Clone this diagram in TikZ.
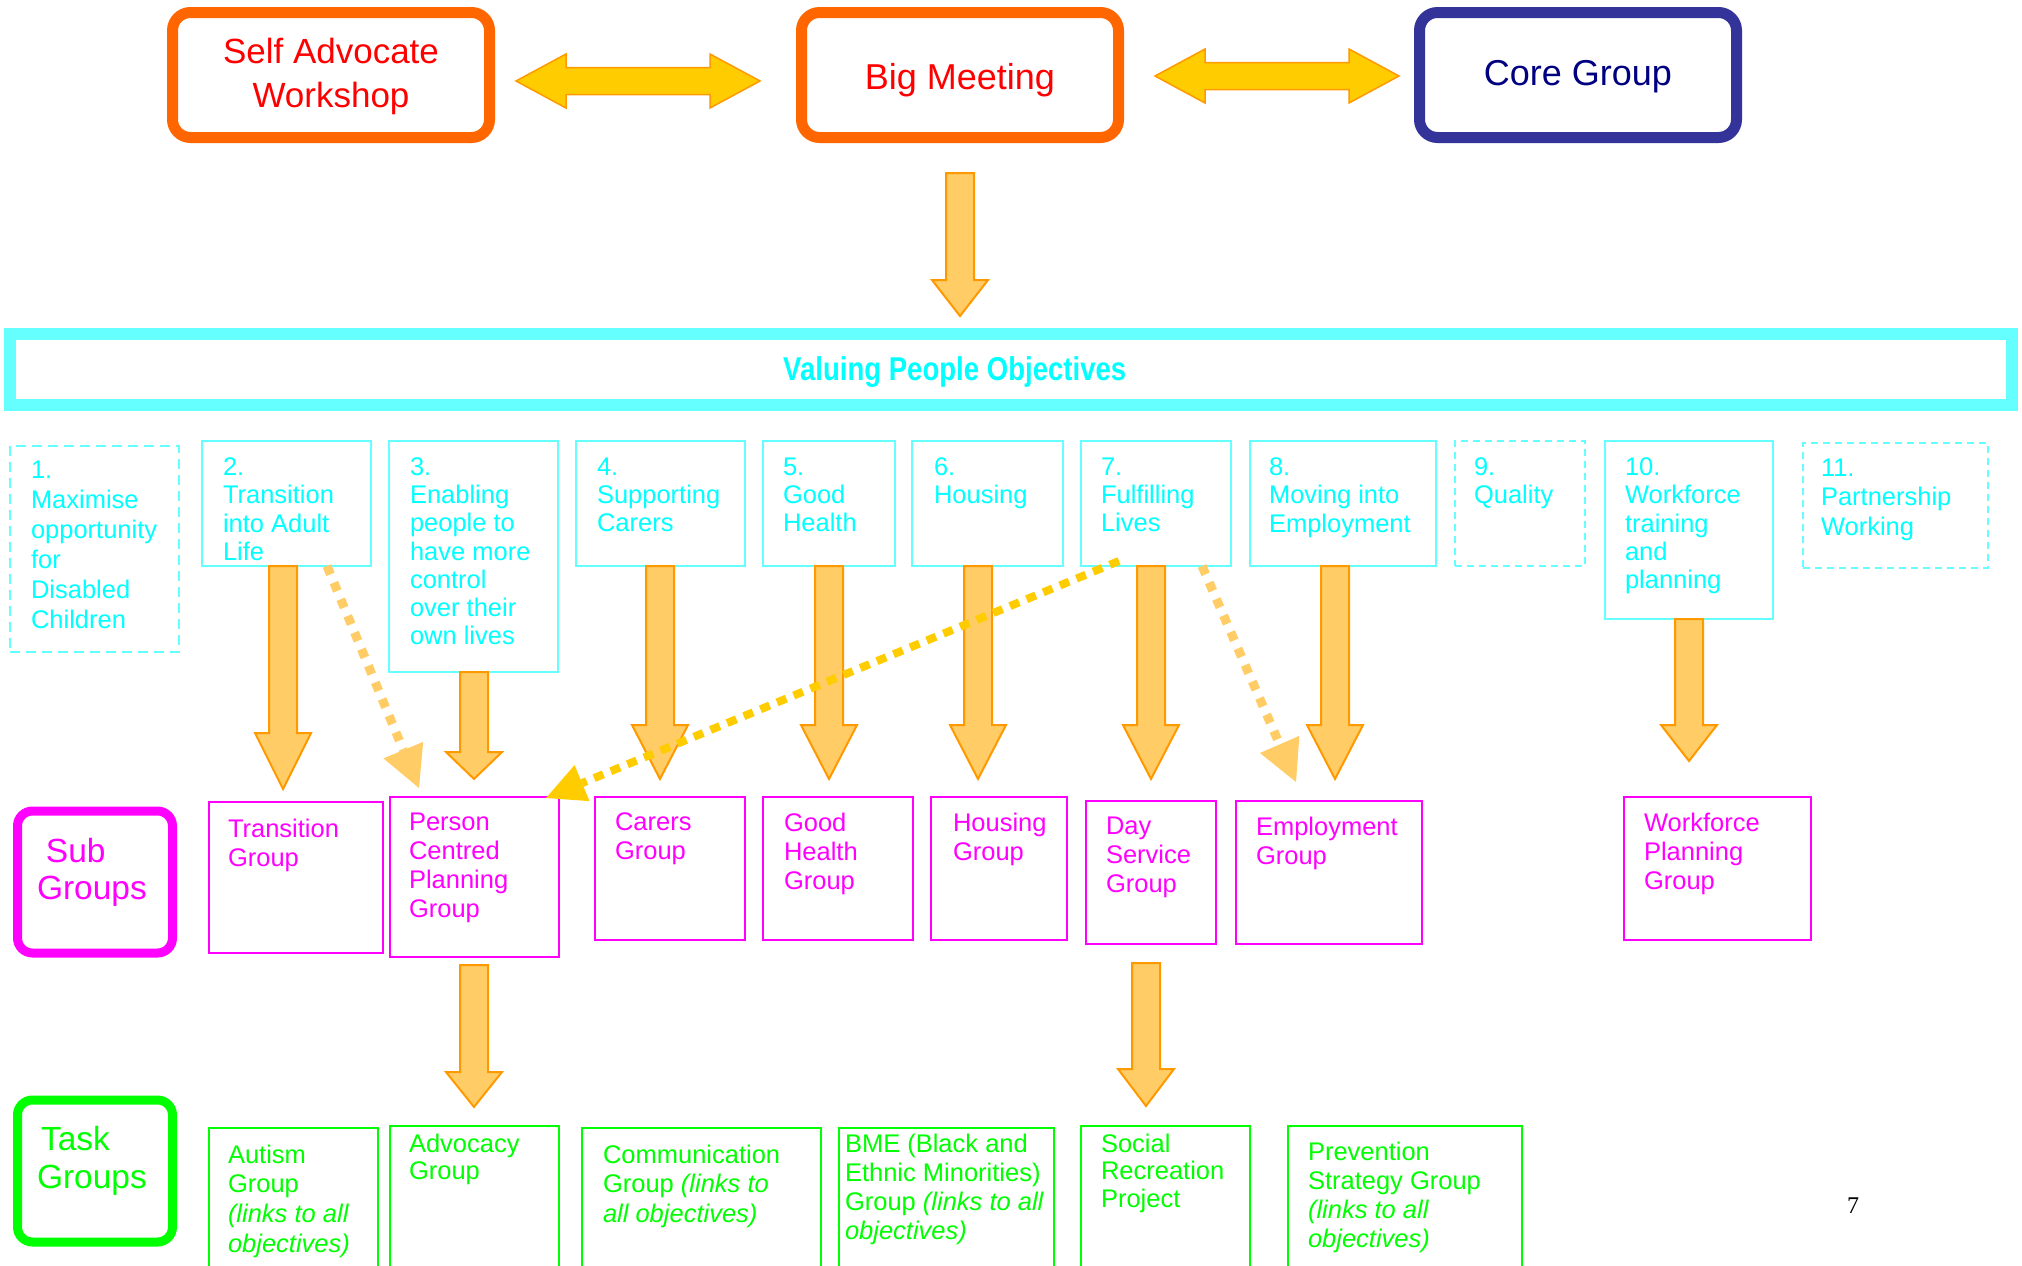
\documentclass[tikz,border=0pt]{standalone}
\usepackage{fontspec}
\setmainfont{Liberation Sans}
\newfontfamily\titlefont{Liberation Sans}[FakeStretch=0.835]
\newfontfamily\pagenumfont{Liberation Serif}
\usetikzlibrary{arrows.meta,calc,fit}
\definecolor{fatfill}{HTML}{FFCC66}
\definecolor{fatline}{HTML}{FF9900}
\definecolor{dblfill}{HTML}{FFCC00}
\definecolor{topor}{HTML}{FF6600}
\definecolor{navyline}{HTML}{333399}
\definecolor{navytext}{HTML}{000080}
\definecolor{cyanline}{HTML}{66FFFF}
\definecolor{cyantext}{HTML}{00FFFF}
\definecolor{mag}{HTML}{FF00FF}
\definecolor{grn}{HTML}{00FF00}
\definecolor{redtext}{HTML}{FF0000}
\definecolor{dotor}{HTML}{FFCC66}
\definecolor{dotyel}{HTML}{FFCC00}
\tikzset{
  frame/.style={inner sep=0pt, outer sep=0pt},
  topbox/.style={frame, draw=topor, line width=11pt, rounded corners=18pt},
  labelbox/.style={frame, line width=9pt, rounded corners=15pt},
  objbox/.style={frame, draw=cyanline, line width=2pt},
  objdash/.style={objbox, dash pattern=on 10pt off 6pt},
  objdot/.style={objbox, dash pattern=on 7pt off 5pt},
  subbox/.style={frame, draw=mag, line width=2pt},
  taskbox/.style={frame, draw=grn, line width=2pt},
  boxtext/.style={inner sep=0pt, outer sep=0pt, anchor=north west, align=left},
  objtext/.style={boxtext, text=cyantext},
  subtext/.style={boxtext, text=mag},
  tasktext/.style={boxtext, text=grn},
  fatarrowstyle/.style={fill=fatfill, draw=fatline, line width=2pt, line join=miter},
  dblarrowstyle/.style={fill=dblfill, draw=fatline, line width=1.5pt, line join=miter},
  dotorange/.style={draw=dotor, line width=9pt, dash pattern=on 9pt off 9pt},
  dotyellow/.style={draw=dotyel, line width=8pt, dash pattern=on 10pt off 8pt}
}
\newcommand\fatarrow[3]{\filldraw[fatarrowstyle] let \p1=(#1), \p2=(#2) in
  (\x1-14pt,\y1) -- (\x1+14pt,\y1) -- (\x1+14pt,\y2+#3pt) -- (\x1+28pt,\y2+#3pt)
  -- (\x2,\y2) -- (\x1-28pt,\y2+#3pt) -- (\x1-14pt,\y2+#3pt) -- cycle;}
\newcommand\dblarrow[2]{\filldraw[dblarrowstyle] let \p1=(#1), \p2=(#2) in
  (\x1,\y1) -- (\x1+50pt,\y1+27pt) -- (\x1+50pt,\y1+13.5pt) -- (\x2-50pt,\y1+13.5pt)
  -- (\x2-50pt,\y1+27pt) -- (\x2,\y1) -- (\x2-50pt,\y1-27pt) -- (\x2-50pt,\y1-13.5pt)
  -- (\x1+50pt,\y1-13.5pt) -- (\x1+50pt,\y1-27pt) -- cycle;}
\begin{document}
\begin{tikzpicture}[x=1pt,y=-1pt]
\useasboundingbox (0,0) rectangle (2022,1266);
\clip (0,0) rectangle (2022,1266);
\fill[white] (0,0) rectangle (2022,1266);

% top row
\node[topbox, fit={(172.5,12.5) (489.5,137.5)}] (saw) {};
\node[anchor=north, align=center, inner sep=0pt, text=redtext, font=\fontsize{35}{44}\selectfont] (sawt) at (331,38) {Self Advocate\\Workshop};
\node[topbox, fit={(801.5,12.5) (1118.5,137.5)}] (bm) {};
\node[anchor=base, inner sep=0pt, text=redtext, font=\fontsize{36}{40}\selectfont] (bmt) at (960,89) {Big Meeting};
\node[topbox, draw=navyline, fit={(1419.5,12.5) (1736.5,137.5)}] (core) {};
\node[anchor=base, inner sep=0pt, text=navytext, font=\fontsize{36}{40}\selectfont] (coret) at (1578,85) {Core Group};

\coordinate (da1s) at (516,81); \coordinate (da1e) at (760,81);
\dblarrow{da1s}{da1e}
\coordinate (da2s) at (1155,76); \coordinate (da2e) at (1399,76);
\dblarrow{da2s}{da2e}

\coordinate (f0a) at (960,173); \coordinate (f0b) at (960,316);
\fatarrow{f0a}{f0b}{36}

% objectives banner
\node[frame, draw=cyanline, line width=12pt, fit={(10,334) (2012,405)}] (vp) {};
\node[anchor=base west, inner sep=0pt, text=cyantext, font=\titlefont\bfseries\fontsize{33}{36}\selectfont] (vpt) at (783,380) {Valuing People Objectives};

% objectives
\node[objdash, fit={(10,446) (179,652)}] (o1) {};
\node[objtext, font=\fontsize{25.5}{30}\selectfont] (o1t) at (31,460.6) {1.\\Maximise\\opportunity\\for\\Disabled\\Children};
\node[objbox, fit={(202,441) (371,566)}] (o2) {};
\node[objtext, font=\fontsize{25.5}{28.3}\selectfont] (o2t) at (223,457.6) {2.\\Transition\\into Adult\\Life};
\node[objbox, fit={(389,441) (558,672)}] (o3) {};
\node[objtext, font=\fontsize{25.5}{28.2}\selectfont] (o3t) at (410,457.6) {3.\\Enabling\\people to\\have more\\control\\over their\\own lives};
\node[objbox, fit={(576,441) (745,566)}] (o4) {};
\node[objtext, font=\fontsize{25.5}{28.3}\selectfont] (o4t) at (597,457.6) {4.\\Supporting\\Carers};
\node[objbox, fit={(763,441) (895,566)}] (o5) {};
\node[objtext, font=\fontsize{25.5}{28.3}\selectfont] (o5t) at (783,457.6) {5.\\Good\\Health};
\node[objbox, fit={(912,441) (1063,566)}] (o6) {};
\node[objtext, font=\fontsize{25.5}{28.3}\selectfont] (o6t) at (934,457.6) {6.\\Housing};
\node[objbox, fit={(1081,441) (1231,566)}] (o7) {};
\node[objtext, font=\fontsize{25.5}{28.3}\selectfont] (o7t) at (1101,457.6) {7.\\Fulfilling\\Lives};
\node[objbox, fit={(1250,441) (1436,566)}] (o8) {};
\node[objtext, font=\fontsize{25.5}{28.3}\selectfont] (o8t) at (1269,457.6) {8.\\Moving into\\Employment};
\node[objdot, fit={(1455,441) (1585,566)}] (o9) {};
\node[objtext, font=\fontsize{25.5}{28.3}\selectfont] (o9t) at (1474,457.6) {9.\\Quality};
\node[objbox, fit={(1605,441) (1773,619)}] (o10) {};
\node[objtext, font=\fontsize{25.5}{28.3}\selectfont] (o10t) at (1625,457.6) {10.\\Workforce\\training\\and\\planning};
\node[objdot, fit={(1803,443) (1988,568)}] (o11) {};
\node[objtext, font=\fontsize{25.5}{29.5}\selectfont] (o11t) at (1821,458.6) {11.\\Partnership\\Working};

% sub groups
\node[labelbox, draw=mag, fit={(17.5,811) (172.5,953)}] (subl) {};
\node[boxtext, text=mag, font=\fontsize{33.5}{37}\selectfont] (sublt) at (37,838) {\hspace*{9pt}Sub\\Groups};
\node[subbox, fit={(209,802) (383,953)}] (s1) {};
\node[subtext, font=\fontsize{25.5}{29}\selectfont] (s1t) at (228,818.6) {Transition\\Group};
\node[subbox, fit={(390,797) (559,957)}] (s2) {};
\node[subtext, font=\fontsize{25.5}{29}\selectfont] (s2t) at (409,812.6) {Person\\Centred\\Planning\\Group};
\node[subbox, fit={(595,797) (745,940)}] (s3) {};
\node[subtext, font=\fontsize{25.5}{29}\selectfont] (s3t) at (615,812.6) {Carers\\Group};
\node[subbox, fit={(763,797) (913,940)}] (s4) {};
\node[subtext, font=\fontsize{25.5}{29}\selectfont] (s4t) at (784,812.6) {Good\\Health\\Group};
\node[subbox, fit={(931,797) (1067,940)}] (s5) {};
\node[subtext, font=\fontsize{25.5}{29}\selectfont] (s5t) at (953,812.6) {Housing\\Group};
\node[subbox, fit={(1086,801) (1216,944)}] (s6) {};
\node[subtext, font=\fontsize{25.5}{29}\selectfont] (s6t) at (1106,816.6) {Day\\Service\\Group};
\node[subbox, fit={(1236,801) (1422,944)}] (s7) {};
\node[subtext, font=\fontsize{25.5}{29}\selectfont] (s7t) at (1256,816.6) {Employment\\Group};
\node[subbox, fit={(1624,797) (1811,940)}] (s8) {};
\node[subtext, font=\fontsize{25.5}{29}\selectfont] (s8t) at (1644,812.6) {Workforce\\Planning\\Group};

% task groups
\node[labelbox, draw=grn, fit={(17.5,1100) (172.5,1242)}] (taskl) {};
\node[boxtext, text=grn, font=\fontsize{33.5}{38}\selectfont] (tasklt) at (37,1126) {\hspace*{4pt}Task\\Groups};
\node[taskbox, fit={(209,1128) (378,1290)}] (t1) {};
\node[tasktext, font=\fontsize{25.5}{29.7}\selectfont] (t1t) at (228,1144.6) {Autism\\Group\\\textit{(links to all}\\\textit{objectives)}};
\node[taskbox, fit={(390,1126) (559,1290)}] (t2) {};
\node[tasktext, font=\fontsize{25.5}{27}\selectfont] (t2t) at (409,1133.6) {Advocacy\\Group};
\node[taskbox, fit={(582,1128) (821,1290)}] (t3) {};
\node[tasktext, font=\fontsize{25.5}{29.5}\selectfont] (t3t) at (603,1144.6) {Communication\\Group \textit{(links to}\\\textit{all objectives)}};
\node[taskbox, fit={(839,1128) (1054,1290)}] (t4) {};
\node[tasktext, font=\fontsize{25.5}{29.3}\selectfont] (t4t) at (845,1133.6) {BME (Black and\\Ethnic Minorities)\\Group \textit{(links to all}\\\textit{objectives)}};
\node[taskbox, fit={(1081,1126) (1250,1290)}] (t5) {};
\node[tasktext, font=\fontsize{25.5}{27.5}\selectfont] (t5t) at (1101,1133.6) {Social\\Recreation\\Project};
\node[taskbox, fit={(1288,1126) (1522,1290)}] (t6) {};
\node[tasktext, font=\fontsize{25.5}{29.3}\selectfont] (t6t) at (1308,1141.6) {Prevention\\Strategy Group\\\textit{(links to all}\\\textit{objectives)}};

\node[anchor=base west, inner sep=0pt, font=\pagenumfont\fontsize{24}{28}\selectfont] (pg) at (1847,1213) {7};

% fat arrows objectives -> sub groups
\coordinate (f2a) at (283,566); \coordinate (f2b) at (283,789); \fatarrow{f2a}{f2b}{56}
\coordinate (f3a) at (474,672); \coordinate (f3b) at (474,779); \fatarrow{f3a}{f3b}{27}
\coordinate (f4a) at (660,566); \coordinate (f4b) at (660,779); \fatarrow{f4a}{f4b}{54}
\coordinate (f5a) at (829,566); \coordinate (f5b) at (829,779); \fatarrow{f5a}{f5b}{54}
\coordinate (f6a) at (978,566); \coordinate (f6b) at (978,779); \fatarrow{f6a}{f6b}{54}
\coordinate (f7a) at (1151,566); \coordinate (f7b) at (1151,779); \fatarrow{f7a}{f7b}{54}
\coordinate (f8a) at (1335,566); \coordinate (f8b) at (1335,779); \fatarrow{f8a}{f8b}{54}
\coordinate (f10a) at (1689,619); \coordinate (f10b) at (1689,761); \fatarrow{f10a}{f10b}{36}
% sub -> task
\coordinate (fpa) at (474,965); \coordinate (fpb) at (474,1107); \fatarrow{fpa}{fpb}{35}
\coordinate (fda) at (1146,963); \coordinate (fdb) at (1146,1106); \fatarrow{fda}{fdb}{37}

% dotted connectors
\coordinate (d1a) at (327,566); \coordinate (d1b) at (419,788);
\draw[dotorange, -{Triangle[length=41pt,width=43pt,line width=0pt]}] (d1a) -- (d1b);
\coordinate (d3a) at (1202,566); \coordinate (d3b) at (1296,782);
\draw[dotorange, -{Triangle[length=41pt,width=43pt,line width=0pt]}] (d3a) -- (d3b);
\coordinate (d2a) at (1119,561); \coordinate (d2b) at (546,798);
\draw[dotyellow, -{Triangle[length=39pt,width=39pt,line width=0pt]}] (d2a) -- (d2b);
\end{tikzpicture}
\end{document}
